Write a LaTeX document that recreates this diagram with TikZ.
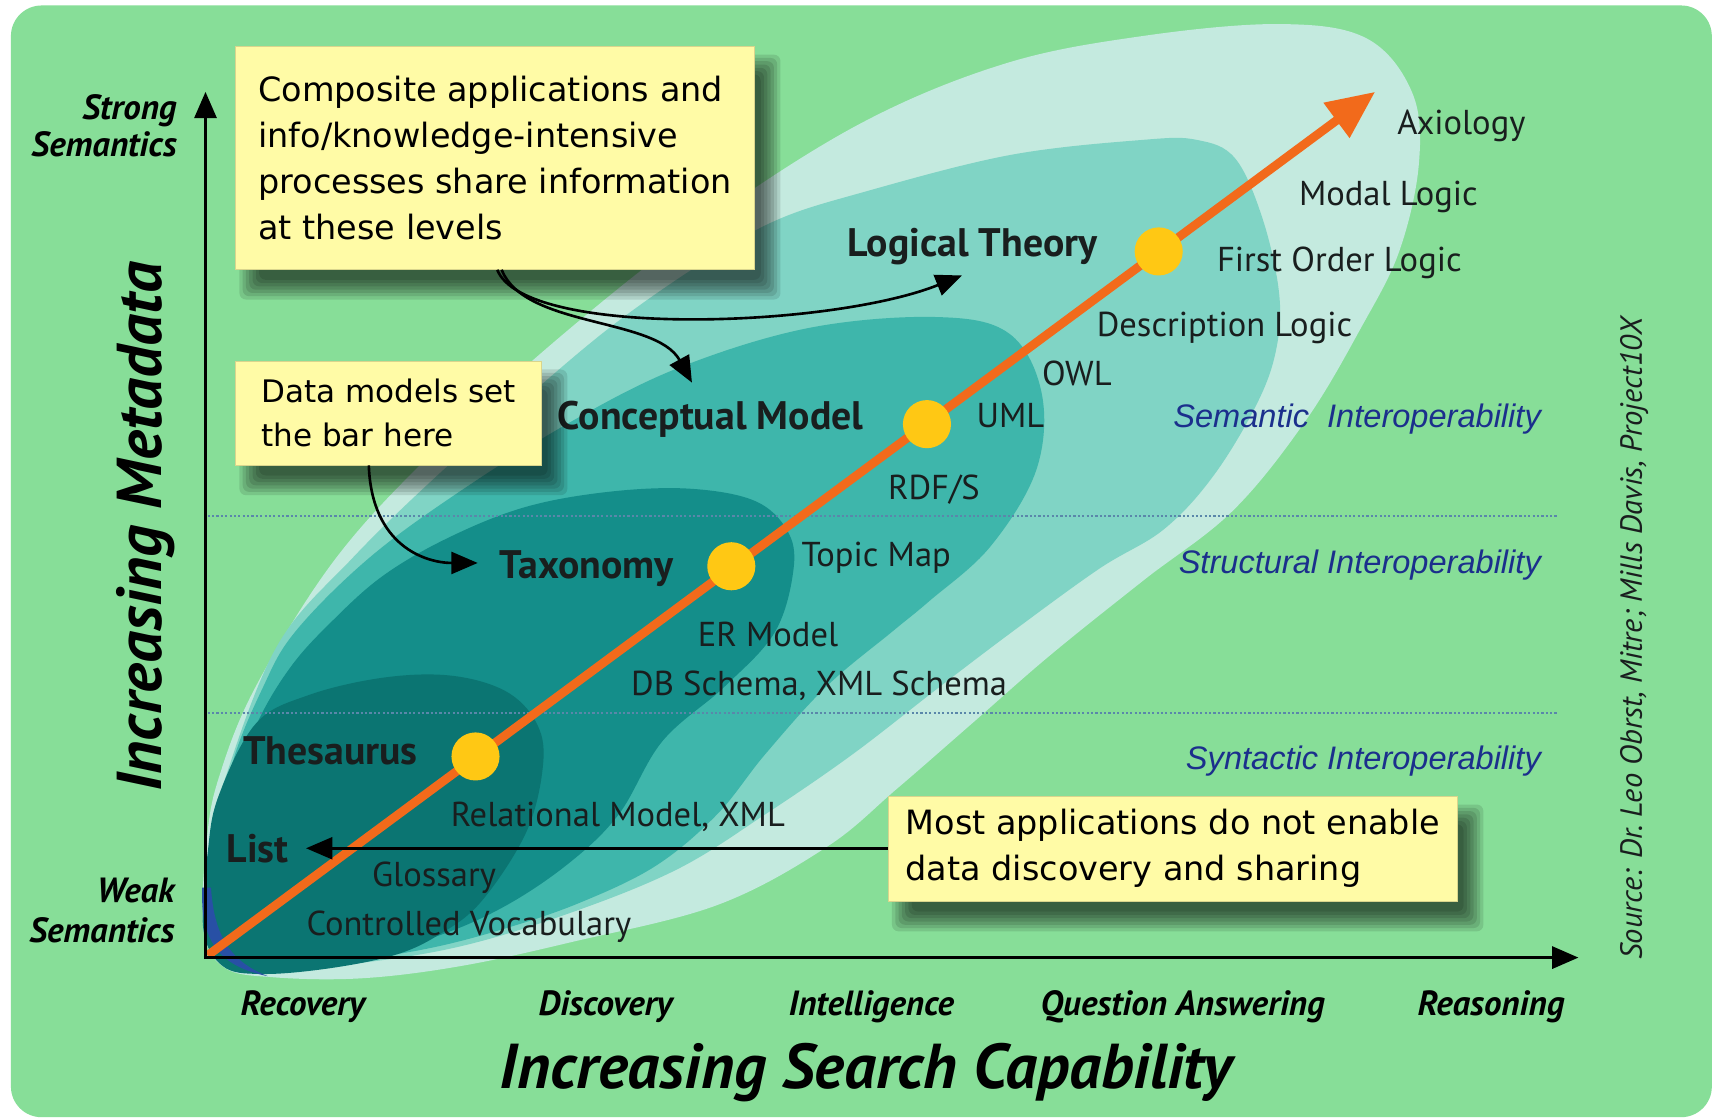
\documentclass[tikz,border=0pt]{standalone}
\usepackage{fontspec}
\setmainfont{PT Sans}
\newfontfamily\boxfont{DejaVu Sans}
\newfontfamily\arialfont{Liberation Sans}
\usetikzlibrary{arrows.meta}
\definecolor{bggreen}{RGB}{135,222,152}
\definecolor{layA}{RGB}{196,234,223}
\definecolor{layB}{RGB}{128,212,197}
\definecolor{layC}{RGB}{62,182,171}
\definecolor{layD}{RGB}{20,142,138}
\definecolor{layE}{RGB}{11,117,114}
\definecolor{edgeblue}{RGB}{40,80,165}
\definecolor{dotyellow}{RGB}{255,200,20}
\definecolor{trajorange}{RGB}{242,106,27}
\definecolor{boxyellow}{RGB}{255,251,166}
\definecolor{interblue}{RGB}{27,47,140}
\definecolor{gridblue}{RGB}{90,135,170}
\definecolor{labtext}{RGB}{25,30,30}
\newcommand{\boxshadow}[4]{%
  \foreach \s in {0,3,6,9,12,15,18}{%
    \fill[black,opacity=0.11,rounded corners=3pt] (#1+22-\s,#2+26-\s) rectangle (#3+6+\s,#4+10+\s);}}
\begin{document}
\begin{tikzpicture}[x=0.5pt,y=-0.5pt,
  lab/.style={font=\fontsize{15.8}{18}\selectfont, text=labtext, inner sep=0pt, anchor=base west},
  blab/.style={font=\fontsize{18.2}{21}\selectfont\bfseries, text=labtext, inner sep=0pt, anchor=base west},
  tick/.style={font=\fontsize{16}{17}\selectfont\bfseries\itshape, text=black, inner sep=0pt, anchor=base},
  interop/.style={font=\fontsize{14.9}{17}\selectfont\arialfont\itshape, text=interblue, inner sep=0pt, anchor=base east},
  ybox/.style={fill=boxyellow, draw=boxyellow!85!black, line width=0.4pt, align=left, inner sep=0pt, anchor=north west, text=black},
  dotnode/.style={circle, fill=dotyellow, minimum size=22pt, inner sep=0pt},
  axisline/.style={line width=1.5pt, -{Triangle[length=12pt,width=10pt]}},
  conn/.style={line width=1.2pt, -{Triangle[length=12pt,width=10pt]}},
  gridline/.style={gridblue, line width=1pt, dash pattern=on 1pt off 1pt},
  traj/.style={trajorange, line width=4pt, -{Triangle[length=22pt,width=19pt]}},
]
\useasboundingbox (0,0) rectangle (1568,1024);
\fill[white] (0,0) rectangle (1568,1024);
\fill[bggreen, rounded corners=14pt] (10,5) rectangle (1566,1022);

% nested layers
\fill[layA] plot[smooth cycle, tension=0.6] coordinates {(186,850) (189,770) (200,712) (234,628) (307,511) (400,410) (522,300) (650,200) (789,112) (920,58) (1045,33) (1170,22) (1250,35) (1292,85) (1298,150) (1280,230) (1245,300) (1195,384) (1128,467) (1046,531) (960,600) (889,662) (820,722) (756,775) (656,828) (522,862) (420,884) (330,895) (250,894) (205,885)};
\fill[layB] plot[smooth cycle, tension=0.6] coordinates {(190,850) (194,770) (206,712) (254,590) (322,511) (400,435) (480,365) (560,298) (640,242) (709,202) (789,176) (923,142) (1045,128) (1095,128) (1130,145) (1155,200) (1170,267) (1168,317) (1151,367) (1111,434) (1065,484) (1006,520) (930,575) (860,628) (780,690) (700,745) (620,795) (522,835) (420,866) (320,882) (240,886) (204,878)};
\fill[layC] plot[smooth cycle, tension=0.6] coordinates {(194,850) (198,780) (212,700) (240,630) (270,578) (337,511) (420,450) (522,386) (622,336) (740,300) (856,290) (923,305) (953,360) (948,430) (906,500) (850,550) (816,578) (756,628) (700,690) (656,745) (600,792) (530,826) (460,850) (390,868) (310,880) (245,882) (210,874)};
\fill[layD] plot[smooth cycle, tension=0.6] coordinates {(197,850) (202,780) (214,720) (236,660) (266,610) (302,570) (350,527) (410,492) (480,464) (556,450) (630,447) (690,458) (720,485) (726,520) (709,578) (663,628) (606,678) (566,745) (520,790) (460,830) (395,858) (320,876) (252,880) (214,872)};
\fill[layE] plot[smooth cycle, tension=0.6] coordinates {(186,850) (190,780) (200,728) (234,662) (282,636) (350,620) (412,618) (462,632) (490,660) (497,697) (482,760) (440,825) (400,856) (360,874) (300,886) (240,891) (204,884)};
\fill[edgeblue] (185,812) .. controls (183,860) and (200,884) .. (245,893) .. controls (212,880) and (196,858) .. (193,812) -- cycle;

% level lines
\draw[gridline] (190,472) -- (1425,472);
\draw[gridline] (190,652) -- (1425,652);

% trajectory
\coordinate (trajstart) at (190,874);
\coordinate (trajend) at (1258,84);
\draw[traj] (trajstart) -- (trajend);
\node[dotnode] (d1) at (435,692) {};
\node[dotnode] (d2) at (669,518) {};
\node[dotnode] (d3) at (848,388) {};
\node[dotnode] (d4) at (1060,230) {};

% axes
\coordinate (orig) at (188,876);
\coordinate (ytip) at (188,84);
\coordinate (xtip) at (1444,876);
\draw[axisline] (188,877.5) -- (ytip);
\draw[axisline] (186.5,876) -- (xtip);

% labels along the trajectory
\node[lab] (axiology) at (1278,123) {Axiology};
\node[lab] (modal) at (1188,188) {Modal Logic};
\node[lab] (fol) at (1113,248) {First Order Logic};
\node[lab] (dl) at (1003,308) {Description Logic};
\node[lab] (owl) at (953,353) {OWL};
\node[lab] (uml) at (893,391) {UML};
\node[lab] (rdfs) at (812,457) {RDF/S};
\node[lab] (topic) at (733,518) {Topic Map};
\node[lab] (er) at (638,591) {ER Model};
\node[lab] (db) at (577,636) {DB Schema, XML Schema};
\node[lab] (rel) at (412,756) {Relational Model, XML};
\node[lab] (gloss) at (340,811) {Glossary};
\node[lab] (cv) at (280,856) {Controlled Vocabulary};

\node[blab] (logic) at (775,235) {Logical Theory};
\node[blab] (concept) at (510,393) {Conceptual Model};
\node[blab] (taxo) at (457,529) {Taxonomy};
\node[blab] (thes) at (222,699) {Thesaurus};
\node[blab] (list) at (207,789) {List};

\node[interop] (semint) at (1410,391) {Semantic\ \ Interoperability};
\node[interop] (strint) at (1410,525) {Structural Interoperability};
\node[interop] (synint) at (1410,704) {Syntactic Interoperability};

% axis texts
\node[tick, anchor=base east, align=right] (strong) at (162,143) {Strong\\Semantics};
\node[tick, anchor=base east, align=right, font=\fontsize{16}{18}\selectfont\bfseries\itshape] (weak) at (160,862) {Weak\\Semantics};
\node[tick] (t1) at (277,929) {Recovery};
\node[tick] (t2) at (554,929) {Discovery};
\node[tick] (t3) at (797,929) {Intelligence};
\node[tick] (t4) at (1082,929) {Question Answering};
\node[tick] (t5) at (1364,929) {Reasoning};
\node[anchor=base, inner sep=0pt, font=\fontsize{29}{32}\selectfont\bfseries\itshape] (xcap) at (792,996) {Increasing Search Capability};
\node[rotate=90, inner sep=0pt, font=\fontsize{29}{32}\selectfont\bfseries\itshape] (ymeta) at (133,482) {Increasing Metadata};
\node[rotate=90, inner sep=0pt, font=\fontsize{14}{16}\selectfont\itshape, text=labtext] (src) at (1495,584) {Source: Dr.\ Leo Obrst, Mitre; Mills Davis, Project10X};

% call-out boxes
\boxshadow{215}{42}{690}{246}
\node[ybox, minimum width=237.5pt, minimum height=102pt, font=\fontsize{15.3}{21}\selectfont\boxfont] (box1) at (215,42) {Composite applications and\\info/knowledge-intensive\\processes share information\\at these levels};
\boxshadow{215}{330}{495}{425}
\node[ybox, minimum width=140pt, minimum height=47.5pt, font=\fontsize{14.2}{20}\selectfont\boxfont] (box2) at (215,330) {Data models set\\the bar here};
\boxshadow{812}{728}{1333}{824}
\node[ybox, minimum width=260.5pt, minimum height=48pt, font=\fontsize{15.3}{21}\selectfont\boxfont] (box3) at (812,728) {Most applications do not enable\\data discovery and sharing};

% connectors
\coordinate (logicin) at (880,252);
\coordinate (conceptin) at (633,350);
\coordinate (taxoin) at (437,515);
\coordinate (listin) at (280,776);
\draw[conn] ([xshift=1pt]box1.south) .. controls (480,310) and (760,300) .. (logicin);
\draw[conn] ([xshift=3pt]box1.south) .. controls (480,300) and (600,290) .. (conceptin);
\draw[conn] ([xshift=-9pt]box2.south) .. controls (340,500) and (390,515) .. (taxoin);
\draw[conn] (box3.west |- listin) -- (listin);
\end{tikzpicture}
\end{document}
